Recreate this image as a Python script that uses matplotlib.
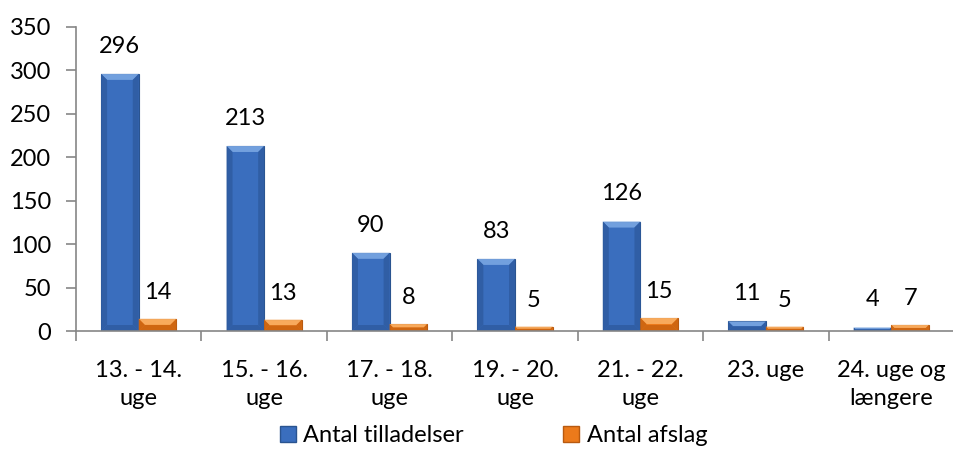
import numpy as np
import matplotlib
matplotlib.use("Agg")
import matplotlib.pyplot as plt
from matplotlib.patches import Patch, Polygon
from matplotlib.transforms import IdentityTransform

categories = ["13. - 14.\nuge", "15. - 16.\nuge", "17. - 18.\nuge", "19. - 20.\nuge",
              "21. - 22.\nuge", "23. uge", "24. uge og\nlængere"]
tilladelser = [296, 213, 90, 83, 126, 11, 4]
afslag = [14, 13, 8, 5, 15, 5, 7]

plt.rcParams['font.family'] = ['Lato', 'DejaVu Sans']
FS = 17

# base, top bevel, side shade, edge
blue = ("#3A6EBE", "#79A6E2", "#2F5DA3", "#2A5490")
orange = ("#EC7A1B", "#FAB064", "#CC6410", "#B85A10")

fig = plt.figure(figsize=(9.54, 4.49), dpi=100)
ax = fig.add_axes([0.0797, 0.2628, 0.9203, 0.6771])

x = np.arange(len(categories))
w = 0.30

ax.set_xlim(-0.5, len(categories) - 0.5)
ax.set_ylim(0, 350)


def bevel_bars(xs, vals, cols):
    base, top, side, edge = cols
    bars = ax.bar(xs, vals, w, color=base, edgecolor=edge, linewidth=0.8, zorder=2)
    for b in bars:
        (x0, y0), (x1, y1) = ax.transData.transform(
            [(b.get_x(), 0), (b.get_x() + b.get_width(), b.get_height())])
        d = min(6, (x1 - x0) / 2, (y1 - y0) / 2)
        faces = [
            ([(x0, y1), (x1, y1), (x1 - d, y1 - d), (x0 + d, y1 - d)], top),
            ([(x0, y0), (x1, y0), (x1 - d, y0 + d), (x0 + d, y0 + d)], side),
            ([(x0, y0), (x0 + d, y0 + d), (x0 + d, y1 - d), (x0, y1)], side),
            ([(x1, y0), (x1 - d, y0 + d), (x1 - d, y1 - d), (x1, y1)], side),
        ]
        for pts, c in faces:
            ax.add_patch(Polygon(pts, closed=True, facecolor=c, edgecolor="none",
                                 transform=IdentityTransform(), zorder=2.5, alpha=0.9))
    return bars


bevel_bars(x - w / 2, tilladelser, blue)
bevel_bars(x + w / 2, afslag, orange)

for xi, v in zip(x - w / 2, tilladelser):
    ax.annotate(str(v), (xi, v), xytext=(0, 20), textcoords="offset points",
                ha="center", va="center", fontsize=FS)
for xi, v in zip(x + w / 2, afslag):
    ax.annotate(str(v), (xi, v), xytext=(0, 19), textcoords="offset points",
                ha="center", va="center", fontsize=FS)

ax.set_yticks(range(0, 351, 50))
ax.set_xticks(x)
ax.set_xticklabels(categories, fontsize=FS, linespacing=1.4)
ax.set_xticks(np.arange(-0.5, len(categories)), minor=True)
ax.tick_params(axis="x", which="major", length=0, pad=21)
ax.tick_params(axis="x", which="minor", length=7, color="#868686", width=1.2)
ax.tick_params(axis="y", length=7, color="#868686", width=1.2, labelsize=FS, pad=11)

for s in ["top", "right"]:
    ax.spines[s].set_visible(False)
for s in ["left", "bottom"]:
    ax.spines[s].set_color("#868686")
    ax.spines[s].set_linewidth(1.2)

handles = [Patch(facecolor=blue[0], edgecolor=blue[3], label="Antal tilladelser"),
           Patch(facecolor=orange[0], edgecolor=orange[3], label="Antal afslag")]
fig.legend(handles=handles, loc="center left", bbox_to_anchor=(0.293, 0.029), ncol=2,
           frameon=False, fontsize=FS, handlelength=0.7, handleheight=0.7,
           handletextpad=0.3, columnspacing=4.2, borderpad=0, borderaxespad=0)

fig.savefig("out.png", dpi=100)
